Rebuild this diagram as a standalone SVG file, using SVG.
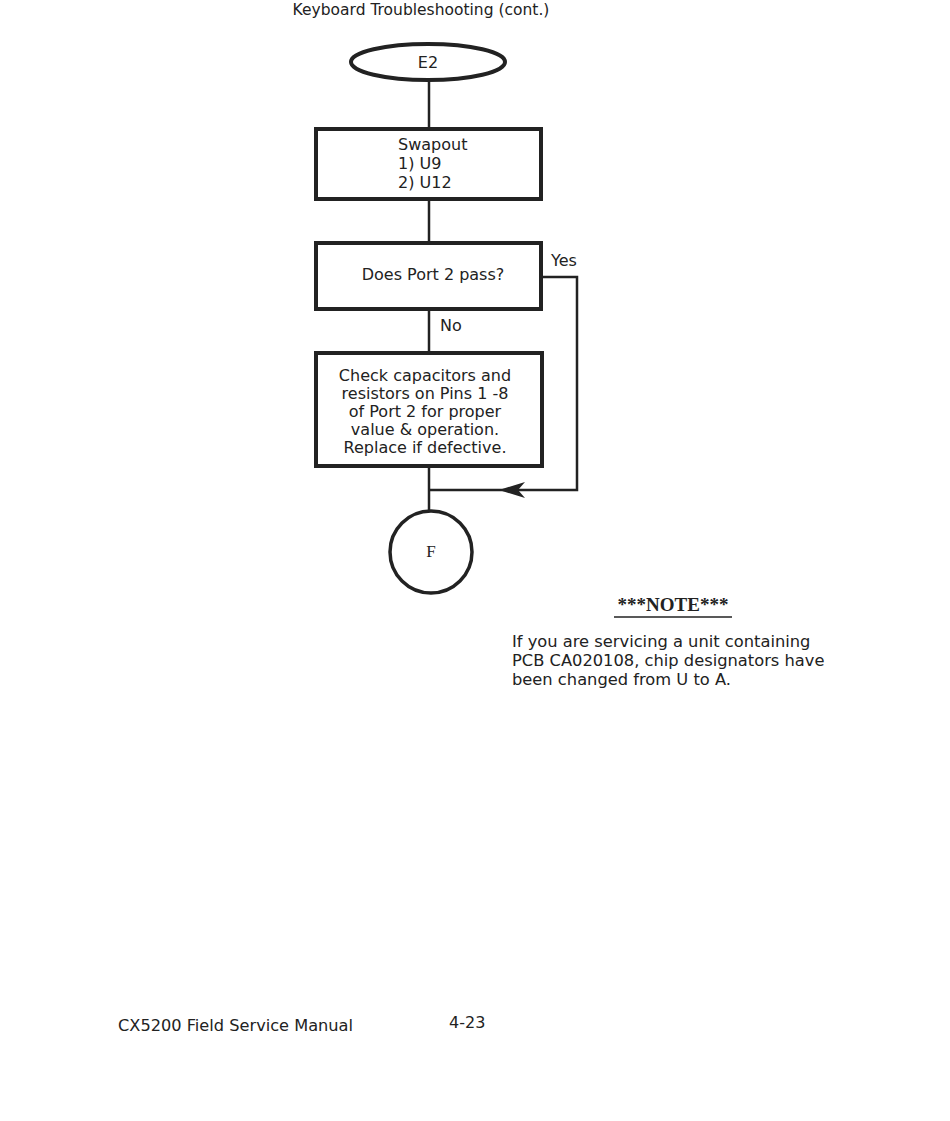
<svg xmlns="http://www.w3.org/2000/svg" width="950" height="1121" viewBox="0 0 950 1121">
<defs>
<style>
text{font-family:"DejaVu Sans","Liberation Sans",sans-serif;fill:#222;font-size:16px}
.c{text-anchor:middle}
.box{fill:#fff;stroke:#222;stroke-width:4}
.ln{fill:none;stroke:#222;stroke-width:2.5}
</style>
</defs>
<rect width="950" height="1121" fill="#fff"/>
<text x="421" y="15" class="c" style="font-size:15.5px">Keyboard Troubleshooting (cont.)</text>
<g id="connectors">
<line class="ln" x1="429" y1="80" x2="429" y2="129"/>
<line class="ln" x1="429" y1="199" x2="429" y2="242"/>
<line class="ln" x1="429" y1="309" x2="429" y2="353"/>
<line class="ln" x1="429" y1="467" x2="429" y2="511"/>
<polyline class="ln" points="541,277 577,277 577,490 429,490"/>
<path d="M499,490 L525,482 L518,490 L525,498 Z" fill="#222"/>
<text x="551" y="266">Yes</text>
<text x="440" y="331">No</text>
</g>
<g id="E2">
<ellipse class="box" cx="428" cy="62" rx="77" ry="18"/>
<text x="428" y="68" class="c">E2</text>
</g>
<g id="swapout">
<rect class="box" x="316" y="129" width="225" height="70"/>
<text x="398" y="150">Swapout</text>
<text x="398" y="169">1) U9</text>
<text x="398" y="188">2) U12</text>
</g>
<g id="decision">
<rect class="box" x="316" y="243" width="225" height="66"/>
<text x="433" y="280" class="c">Does Port 2 pass?</text>
</g>
<g id="check">
<rect class="box" x="316" y="353" width="226" height="113"/>
<text x="425" y="381" class="c">Check capacitors and</text>
<text x="425" y="399" class="c">resistors on Pins 1 -8</text>
<text x="425" y="417" class="c">of Port 2 for proper</text>
<text x="425" y="435" class="c">value &amp; operation.</text>
<text x="425" y="453" class="c">Replace if defective.</text>
</g>
<g id="F">
<circle cx="431" cy="552" r="41" fill="#fff" stroke="#222" stroke-width="3.5"/>
<text x="431" y="557" class="c" style="font-family:'Liberation Serif',serif;font-size:17px">F</text>
</g>
<g id="note">
<text x="673" y="611" class="c" style="font-family:'Liberation Serif',serif;font-size:19px;font-weight:bold">***NOTE***</text>
<line x1="614" y1="617" x2="732" y2="617" stroke="#222" stroke-width="1.5"/>
<text x="512" y="647" style="font-size:16.3px">If you are servicing a unit containing</text>
<text x="512" y="666" style="font-size:16.3px">PCB CA020108, chip designators have</text>
<text x="512" y="685" style="font-size:16.3px">been changed from U to A.</text>
</g>
<text x="118" y="1031" style="font-size:16.2px">CX5200 Field Service Manual</text>
<text x="449" y="1028">4-23</text>
</svg>
